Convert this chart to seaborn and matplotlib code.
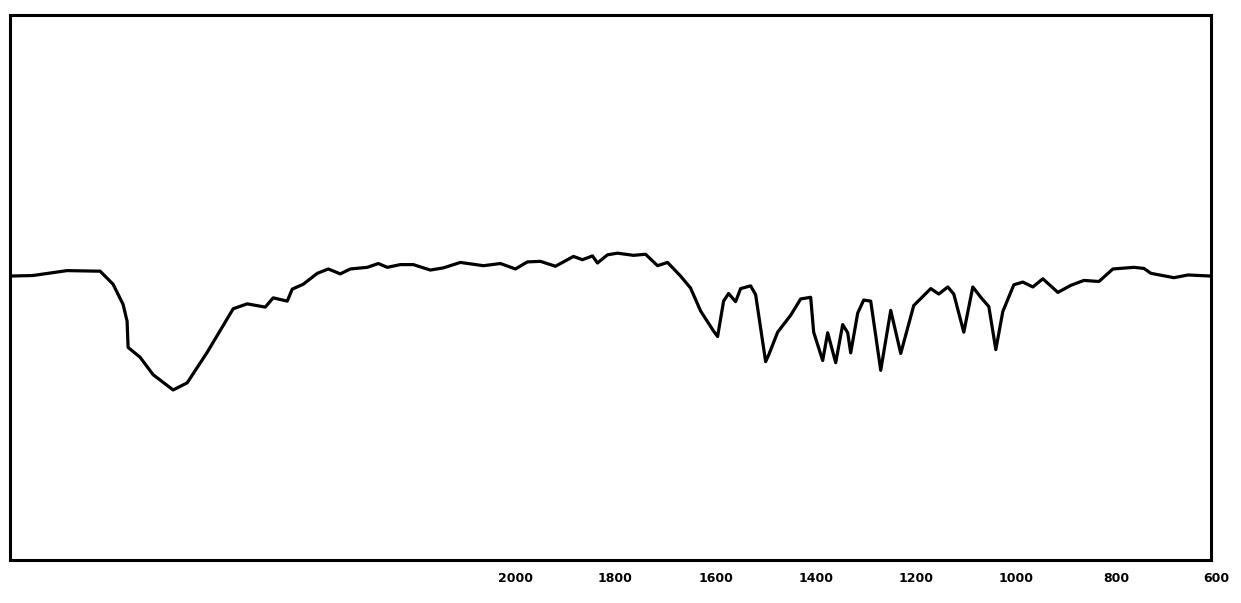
import numpy as np
import pandas as pd
import matplotlib
matplotlib.use("Agg")
import matplotlib.pyplot as plt
from matplotlib.transforms import ScaledTranslation
import seaborn as sns

# Infrared spectrum: wavenumber (cm^-1) and % transmittance
wavenumber = [
    4000, 3908, 3772, 3652, 3640, 3588, 3548, 3532, 3528, 3480, 3428, 3348,
    3292, 3212, 3108, 3052, 2980, 2948, 2892, 2872, 2828, 2772, 2728, 2680,
    2640, 2572, 2528, 2492, 2440, 2388, 2320, 2268, 2200, 2108, 2040,
    1990, 1966, 1940, 1910, 1874, 1856, 1836, 1826, 1806, 1786, 1754, 1730,
    1706, 1686, 1660, 1640, 1620, 1594, 1586, 1574, 1564, 1550, 1540, 1520,
    1510, 1490, 1484, 1466, 1440, 1420, 1400, 1394, 1376, 1366, 1350, 1336,
    1326, 1320, 1306, 1294, 1280, 1260, 1240, 1220, 1194, 1160, 1144, 1126,
    1114, 1094, 1076, 1060, 1044, 1030, 1016, 994, 976, 956, 936, 906, 880,
    854, 824, 796, 754, 734, 720, 674, 646, 600,
]
transmittance = [
    52.1, 52.2, 53.1, 53.0, 53.0, 50.6, 46.9, 43.8, 39.0, 37.2, 34.0, 31.2,
    32.5, 38.1, 46.1, 47.0, 46.4, 48.1, 47.5, 49.7, 50.6, 52.6, 53.4, 52.5,
    53.4, 53.7, 54.4, 53.7, 54.2, 54.2, 53.2, 53.6, 54.6, 54.0, 54.4,
    53.4, 54.7, 54.8, 53.9, 55.7, 55.1, 55.8, 54.5, 56.0, 56.3, 55.9, 56.1,
    54.0, 54.6, 52.1, 49.9, 45.7, 42.0, 41.0, 47.5, 48.9, 47.4, 49.8, 50.3,
    48.7, 36.4, 37.6, 41.8, 44.9, 47.9, 48.2, 41.8, 36.6, 41.7, 36.2, 43.2,
    41.7, 38.0, 45.3, 47.7, 47.5, 34.8, 45.8, 37.9, 46.7, 49.8, 48.8, 50.1,
    48.8, 41.8, 50.1, 48.2, 46.5, 38.6, 45.6, 50.5, 51.0, 50.1, 51.6, 49.1, 50.4,
    51.3, 51.1, 53.4, 53.7, 53.5, 52.6, 51.8, 52.3, 52.1,
]

tick_values = [2000, 1800, 1600, 1400, 1200, 1000, 800, 600]
tick_labels = ["2000", "1800", "1600", "1400", "1200", "1000", "800", "600"]

df = pd.DataFrame({"wavenumber": wavenumber, "T": transmittance})

sns.set_style("white")
plt.rcParams["font.family"] = ["DejaVu Sans"]

fig = plt.figure(figsize=(12.41, 6.03), dpi=100)
ax = fig.add_axes([10 / 1241, 43 / 603, 1201 / 1241, 545 / 603])


# Spectrometer chart paper: 4000-2000 cm^-1 at half the scale of 2000-600
def _fwd(w):
    w = np.asarray(w, dtype=float)
    return np.where(w > 2000, 2000 + (w - 2000) / 2.0, w)


def _inv(p):
    p = np.asarray(p, dtype=float)
    return np.where(p > 2000, 2000 + (p - 2000) * 2.0, p)


ax.set_xscale("function", functions=(_fwd, _inv))

sns.lineplot(data=df, x="wavenumber", y="T", ax=ax, color="black",
             linewidth=2.3, sort=False, estimator=None)

ax.set_xlim(4000, 600)
ax.set_ylim(0, 100)
ax.set_xticks(tick_values)
ax.set_xticklabels(tick_labels, fontsize=9, fontweight="bold", color="black")
ax.set_yticks([])
ax.tick_params(axis="x", length=0, pad=9, labelcolor="black")
# Labels are written just right of their marks
shift = ScaledTranslation(5 / 100, 0, fig.dpi_scale_trans)
for lbl in ax.get_xticklabels():
    lbl.set_transform(lbl.get_transform() + shift)
ax.set_xlabel("")
ax.set_ylabel("")
for s in ax.spines.values():
    s.set_visible(True)
    s.set_color("black")
    s.set_linewidth(2.2)

fig.savefig("out.png", dpi=100, facecolor="white")
